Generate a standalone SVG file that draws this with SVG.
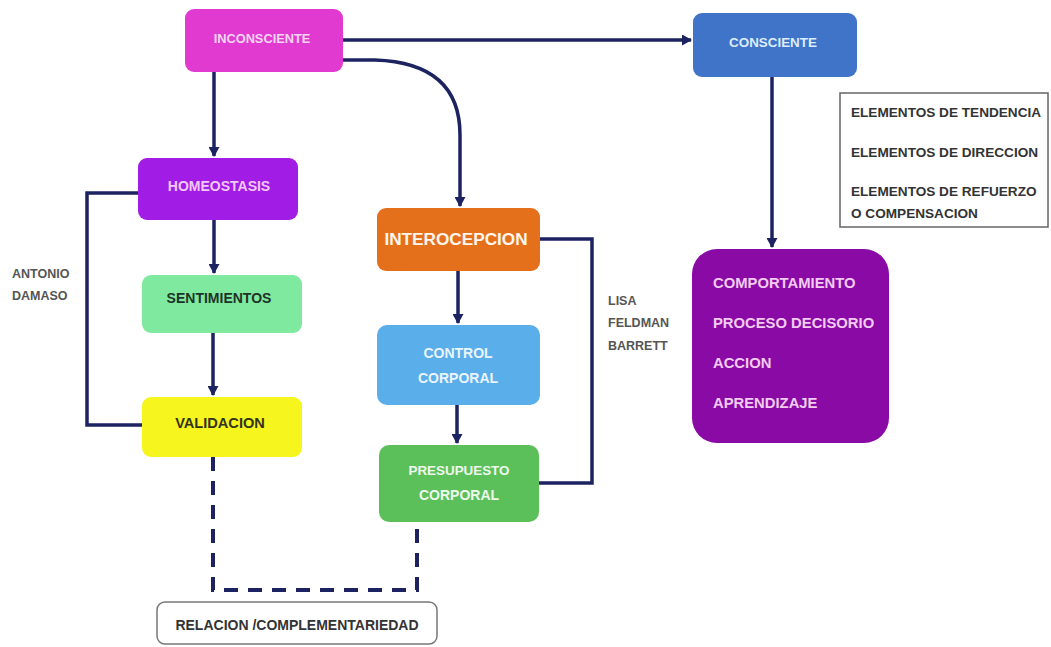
<svg xmlns="http://www.w3.org/2000/svg" width="1051" height="647" viewBox="0 0 1051 647">
  <defs>
    <marker id="arrow" markerWidth="11" markerHeight="11" refX="9" refY="5.5" orient="auto" markerUnits="userSpaceOnUse">
      <path d="M0,0 L10,5.5 L0,11 z" fill="#1c2360"/>
    </marker>
    <style>
      text { font-family: "Liberation Sans", Arial, sans-serif; font-weight: bold; }
      .lbl { font-size: 14px; text-anchor: middle; }
      .side { font-size: 12.5px; fill: #555; }
      .legend { font-size: 13.6px; fill: #333; }
      .big { font-size: 14.8px; fill: #f2ccf2; }
      .link { fill: none; stroke: #1c2360; stroke-width: 3.5; }
      .arrow { marker-end: url(#arrow); }
      .dash { stroke-dasharray: 14 10; stroke-width: 4; }
    </style>
  </defs>
  <rect width="1051" height="647" fill="#ffffff"/>

  <!-- connectors -->
  <g id="connectors">
    <path class="link arrow" d="M343,40 L691,40"/>
    <path class="link arrow" d="M343,60 L375,60 C435,62 460,90 460,135 L460,206"/>
    <path class="link arrow" d="M214,72 L214,156"/>
    <path class="link arrow" d="M214,220 L214,273"/>
    <path class="link arrow" d="M213,333 L213,395"/>
    <path class="link" d="M138,193 L87,193 L87,425 L142,425"/>
    <path class="link arrow" d="M458,271 L458,323"/>
    <path class="link arrow" d="M457,405 L457,443"/>
    <path class="link" d="M540,239 L592,239 L592,483 L539,483"/>
    <path class="link dash" d="M213,457 L213,590 L417,590 L417,522"/>
    <path class="link arrow" d="M772,77 L772,247"/>
  </g>

  <g id="inconsciente">
    <rect x="185" y="9" width="158" height="63" rx="9" fill="#e03ad0"/>
    <text class="lbl" x="262" y="43" fill="#f6d6f2" style="font-size:12.8px">INCONSCIENTE</text>
  </g>

  <g id="consciente">
    <rect x="693" y="13" width="164" height="64" rx="9" fill="#3f74c9"/>
    <text class="lbl" x="773" y="47" fill="#dcecfa" style="font-size:13.4px">CONSCIENTE</text>
  </g>

  <g id="legend">
    <rect x="840" y="93" width="208" height="134" fill="#ffffff" stroke="#666" stroke-width="1.5"/>
    <text class="legend" x="851" y="117">ELEMENTOS DE TENDENCIA</text>
    <text class="legend" x="851" y="157">ELEMENTOS DE DIRECCION</text>
    <text class="legend" x="851" y="196">ELEMENTOS DE REFUERZO</text>
    <text class="legend" x="851" y="218">O COMPENSACION</text>
  </g>

  <g id="homeostasis">
    <rect x="138" y="158" width="160" height="62" rx="9" fill="#a11de6"/>
    <text class="lbl" x="219" y="191" fill="#f2c8f8">HOMEOSTASIS</text>
  </g>

  <g id="sentimientos">
    <rect x="142" y="275" width="160" height="58" rx="9" fill="#7fe9a0"/>
    <text class="lbl" x="219" y="303" fill="#1e3328">SENTIMIENTOS</text>
  </g>

  <g id="validacion">
    <rect x="142" y="397" width="160" height="60" rx="9" fill="#f6f51e"/>
    <text class="lbl" x="220" y="428" fill="#33331a" style="font-size:14.6px">VALIDACION</text>
  </g>

  <g id="antonio-damaso">
    <text class="side" x="12" y="278">ANTONIO</text>
    <text class="side" x="12" y="300">DAMASO</text>
  </g>

  <g id="interocepcion">
    <rect x="377" y="208" width="163" height="63" rx="9" fill="#e5701c"/>
    <text class="lbl" x="456" y="245" fill="#fff6ee" style="font-size:17.2px">INTEROCEPCION</text>
  </g>

  <g id="lisa-feldman-barrett">
    <text class="side" x="608" y="305">LISA</text>
    <text class="side" x="608" y="327">FELDMAN</text>
    <text class="side" x="608" y="350">BARRETT</text>
  </g>

  <g id="control-corporal">
    <rect x="377" y="325" width="163" height="80" rx="10" fill="#5aaeea"/>
    <text class="lbl" x="458" y="358" fill="#eaf5ff">CONTROL</text>
    <text class="lbl" x="458" y="383" fill="#eaf5ff">CORPORAL</text>
  </g>

  <g id="presupuesto-corporal">
    <rect x="379" y="445" width="160" height="77" rx="10" fill="#5cc05a"/>
    <text class="lbl" x="459" y="475" fill="#eef9ee" style="font-size:13.4px">PRESUPUESTO</text>
    <text class="lbl" x="459" y="500" fill="#eef9ee">CORPORAL</text>
  </g>

  <g id="conducta">
    <rect x="692" y="249" width="197" height="194" rx="25" fill="#8a0aa6"/>
    <text class="big" x="713" y="288">COMPORTAMIENTO</text>
    <text class="big" x="713" y="328">PROCESO DECISORIO</text>
    <text class="big" x="713" y="368">ACCION</text>
    <text class="big" x="713" y="408">APRENDIZAJE</text>
  </g>

  <g id="relacion">
    <rect x="157" y="602" width="280" height="42" rx="8" fill="#ffffff" stroke="#777" stroke-width="1.5"/>
    <text class="lbl" x="297" y="630" fill="#333">RELACION /COMPLEMENTARIEDAD</text>
  </g>
</svg>
